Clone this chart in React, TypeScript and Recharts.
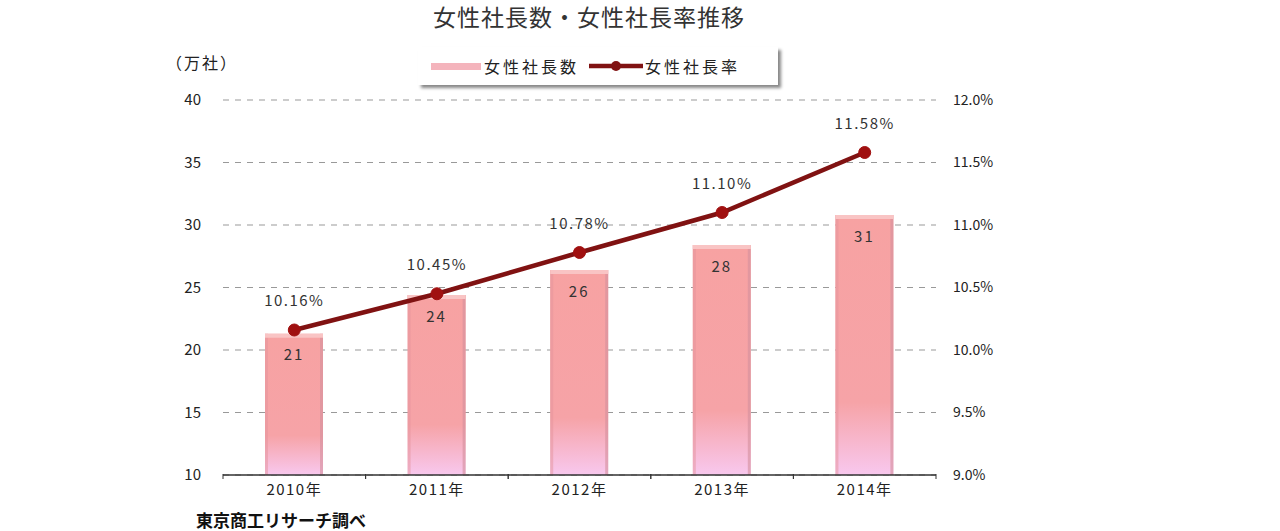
import {
  ComposedChart,
  Bar,
  Line,
  XAxis,
  YAxis,
  CartesianGrid,
  LabelList,
} from "recharts"

const years = ["2010年", "2011年", "2012年", "2013年", "2014年"]
const presidents = [21.3, 24.4, 26.4, 28.4, 30.8]
const presidentLabels = ["21", "24", "26", "28", "31"]
const rates = [10.16, 10.45, 10.78, 11.1, 11.58]
const leftTicks = [10, 15, 20, 25, 30, 35, 40]
const rightTicks = [9.0, 9.5, 10.0, 10.5, 11.0, 11.5, 12.0]

const chartData = years.map((year, i) => ({
  year,
  count: presidents[i],
  countLabel: presidentLabels[i],
  rate: rates[i],
}))

const FONT = '"Noto Sans CJK JP", "Noto Sans", sans-serif'
const LINE_COLOR = "#801212"

function BarShape(props: any) {
  const { x, y, width, height } = props
  if (!height) return null
  return (
    <g>
      <rect x={x} y={y} width={width} height={height} fill="url(#barFill)" />
      <rect x={x} y={y} width={3} height={height} fill="#e3939c" opacity={0.5} />
      <rect x={x + width - 3} y={y} width={3} height={height} fill="#d4909c" opacity={0.6} />
      <rect x={x} y={y} width={width} height={4} fill="#f9c4c4" />
    </g>
  )
}

function XTick(props: any) {
  const { x, y, payload } = props
  const half = payload && payload.offset ? payload.offset : 71
  return (
    <g>
      <line x1={x - half} y1={y - 9} x2={x - half} y2={y - 4} stroke="#333" />
      <line x1={x + half} y1={y - 9} x2={x + half} y2={y - 4} stroke="#333" />
      <text
        x={x}
        y={y + 12}
        textAnchor="middle"
        fontSize={15}
        letterSpacing={1.5}
        fill="#222"
        fontFamily={FONT}
      >
        {payload.value}
      </text>
    </g>
  )
}

function LegendBox() {
  return (
    <div
      style={{
        position: "absolute",
        left: 418,
        top: 47,
        width: 360,
        height: 38,
        background: "#fff",
        boxShadow: "3px 3px 3px #888",
        display: "flex",
        alignItems: "center",
        fontFamily: FONT,
        fontSize: 16,
        letterSpacing: 3,
        color: "#222",
        boxSizing: "border-box",
        paddingLeft: 13,
      }}
    >
      <span style={{ display: "inline-block", width: 50, height: 7, background: "#f4b4bc", marginRight: 3 }} />
      <span>女性社長数</span>
      <svg width={54} height={14} style={{ marginLeft: 10, marginRight: 2 }}>
        <line x1={0} y1={7} x2={54} y2={7} stroke={LINE_COLOR} strokeWidth={4.5} />
        <circle cx={27} cy={7} r={5} fill={LINE_COLOR} />
      </svg>
      <span>女性社長率</span>
    </div>
  )
}

export default function App() {
  return (
    <div style={{ position: "absolute", left: 0, top: 0, width: 1280, height: 531, background: "#fff" }}>
      <div
        style={{
          position: "absolute",
          left: 0,
          width: 1178,
          top: 2,
          lineHeight: "28px",
          textAlign: "center",
          fontFamily: FONT,
          fontSize: 23,
          letterSpacing: 1,
          color: "#333",
        }}
      >
        女性社長数・女性社長率推移
      </div>
      <div
        style={{
          position: "absolute",
          left: 166,
          top: 50,
          fontFamily: FONT,
          fontSize: 16,
          letterSpacing: 2,
          color: "#222",
        }}
      >
        （万社）
      </div>
      <div
        style={{
          position: "absolute",
          left: 196,
          top: 507,
          fontFamily: FONT,
          fontSize: 17,
          fontWeight: 700,
          color: "#111",
        }}
      >
        東京商工リサーチ調べ
      </div>
      <LegendBox />
      <ComposedChart
        width={1280}
        height={531}
        data={chartData}
        margin={{ top: 100, right: 284, bottom: 26, left: 163 }}
        barSize={58}
      >
        <defs>
          <linearGradient id="barFill" x1="0" y1="0" x2="0" y2="1">
            <stop offset="0%" stopColor="#f7a2a2" />
            <stop offset="72%" stopColor="#f6a3a7" />
            <stop offset="100%" stopColor="#f8c8ee" />
          </linearGradient>
        </defs>
        <CartesianGrid yAxisId="left" vertical={false} stroke="#999" strokeDasharray="6 6" />
        <XAxis
          dataKey="year"
          height={30}
          stroke="#333"
          strokeWidth={1.5}
          tickLine={false}
          tick={<XTick />}
          interval={0}
        />
        <YAxis
          yAxisId="left"
          width={60}
          domain={[10, 40]}
          ticks={leftTicks}
          axisLine={false}
          tickLine={false}
          tickSize={0}
          tickMargin={22}
          tick={{ fontSize: 15, fill: "#222", fontFamily: FONT }}
        />
        <YAxis
          yAxisId="right"
          orientation="right"
          width={60}
          domain={[9, 12]}
          ticks={rightTicks}
          axisLine={false}
          tickLine={false}
          tickSize={0}
          tickMargin={17}
          tickFormatter={(v: number) => `${v.toFixed(1)}%`}
          tick={{ fontSize: 14, fill: "#222", fontFamily: FONT, textAnchor: "start" }}
        />
        <Bar yAxisId="left" dataKey="count" name="女性社長数" shape={<BarShape />} isAnimationActive={false}>
          <LabelList
            dataKey="countLabel"
            position="insideTop"
            offset={16}
            style={{ fontSize: 15, fill: "#333", fontFamily: FONT, letterSpacing: 2 }}
          />
        </Bar>
        <Line
          yAxisId="right"
          dataKey="rate"
          name="女性社長率"
          stroke={LINE_COLOR}
          strokeWidth={4.5}
          dot={{ r: 6, fill: "#a01010", stroke: "#a01010", strokeWidth: 1 }}
          activeDot={false}
          isAnimationActive={false}
        >
          <LabelList
            dataKey="rate"
            position="top"
            offset={24}
            formatter={(v: any) => `${Number(v).toFixed(2)}%`}
            style={{ fontSize: 15, fill: "#333", fontFamily: FONT, letterSpacing: 1.5 }}
          />
        </Line>
      </ComposedChart>
    </div>
  )
}
